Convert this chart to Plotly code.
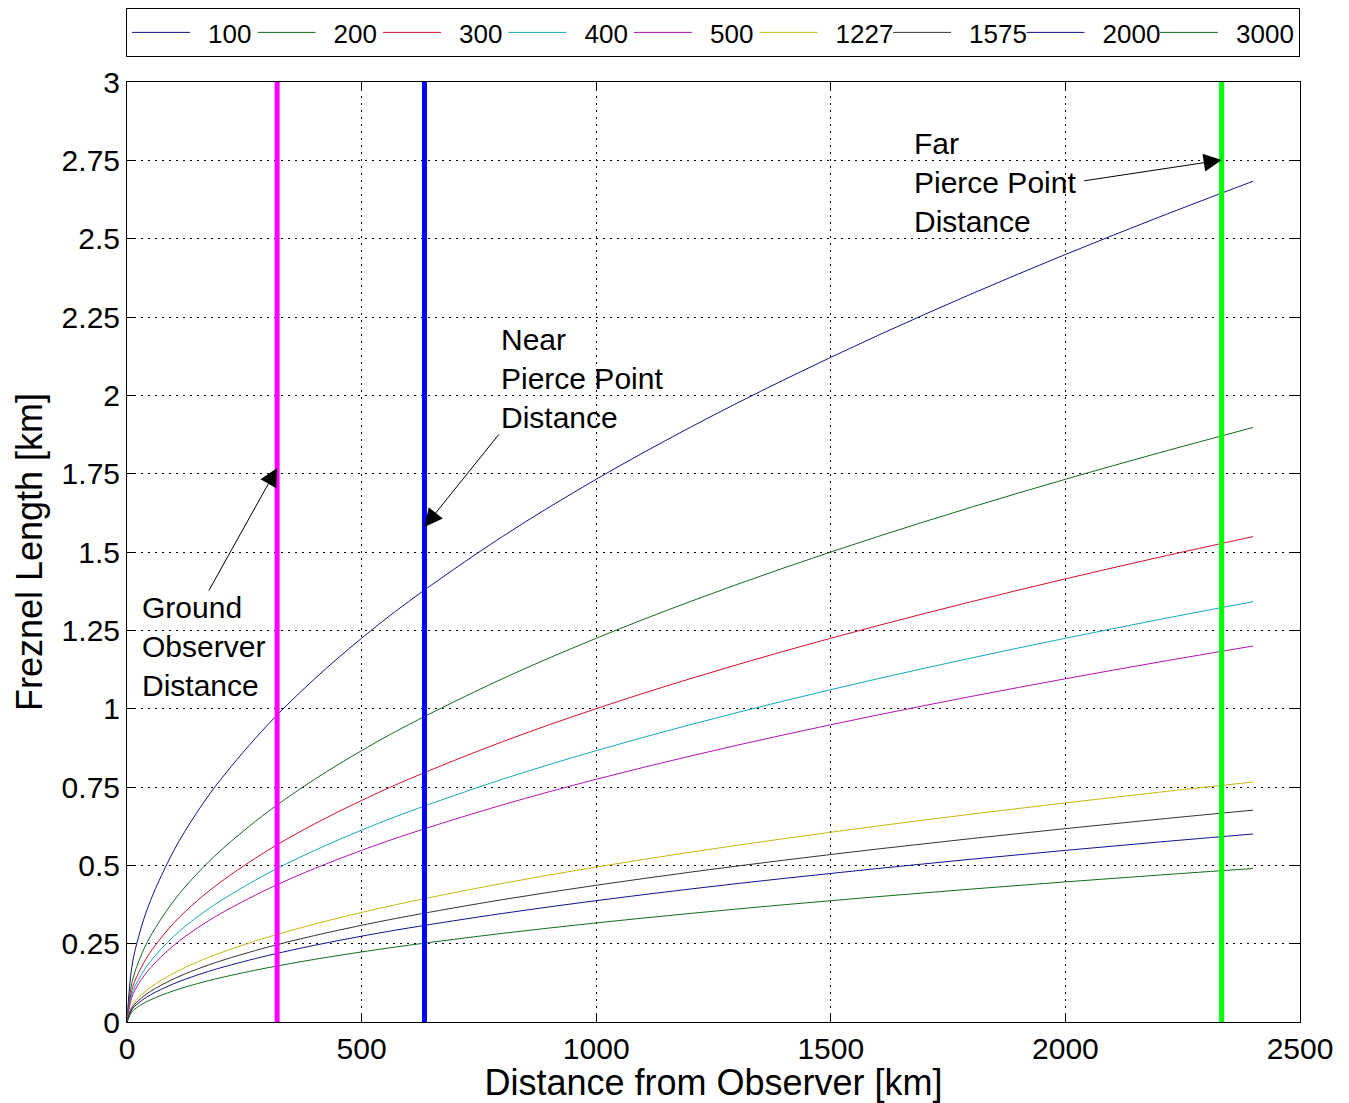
import plotly.graph_objects as go

# Distance from observer [km]
distance = [0, 10, 25, 50, 100, 150, 200, 300, 400, 500, 600, 800, 1000,
            1200, 1400, 1600, 1800, 2000, 2200, 2400]

# Freznel length [km] per series
f100 = [0, 0.1732, 0.2739, 0.3873, 0.5477, 0.6708, 0.7746, 0.9487, 1.0954, 1.2247,
        1.3416, 1.5492, 1.7321, 1.8974, 2.0494, 2.1909, 2.3238, 2.4495, 2.5690, 2.6833]
f200 = [0, 0.1225, 0.1936, 0.2739, 0.3873, 0.4743, 0.5477, 0.6708, 0.7746, 0.8660,
        0.9487, 1.0954, 1.2247, 1.3416, 1.4491, 1.5492, 1.6432, 1.7321, 1.8166, 1.8974]
f300 = [0, 0.1000, 0.1581, 0.2236, 0.3162, 0.3873, 0.4472, 0.5477, 0.6325, 0.7071,
        0.7746, 0.8944, 1.0000, 1.0954, 1.1832, 1.2649, 1.3416, 1.4142, 1.4832, 1.5492]
f400 = [0, 0.0866, 0.1369, 0.1936, 0.2739, 0.3354, 0.3873, 0.4743, 0.5477, 0.6124,
        0.6708, 0.7746, 0.8660, 0.9487, 1.0247, 1.0954, 1.1619, 1.2247, 1.2845, 1.3416]
f500 = [0, 0.0775, 0.1225, 0.1732, 0.2449, 0.3000, 0.3464, 0.4243, 0.4899, 0.5477,
        0.6000, 0.6928, 0.7746, 0.8485, 0.9165, 0.9798, 1.0392, 1.0954, 1.1489, 1.2000]
f1227 = [0, 0.0494, 0.0782, 0.1106, 0.1564, 0.1915, 0.2211, 0.2708, 0.3127, 0.3496,
         0.3830, 0.4423, 0.4945, 0.5417, 0.5851, 0.6255, 0.6634, 0.6993, 0.7334, 0.7660]
f1575 = [0, 0.0436, 0.0690, 0.0976, 0.1380, 0.1690, 0.1952, 0.2390, 0.2760, 0.3086,
         0.3381, 0.3904, 0.4364, 0.4781, 0.5164, 0.5521, 0.5855, 0.6172, 0.6473, 0.6761]
f2000 = [0, 0.0387, 0.0612, 0.0866, 0.1225, 0.1500, 0.1732, 0.2121, 0.2449, 0.2739,
         0.3000, 0.3464, 0.3873, 0.4243, 0.4583, 0.4899, 0.5196, 0.5477, 0.5745, 0.6000]
f3000 = [0, 0.0316, 0.0500, 0.0707, 0.1000, 0.1225, 0.1414, 0.1732, 0.2000, 0.2236,
         0.2449, 0.2828, 0.3162, 0.3464, 0.3742, 0.4000, 0.4243, 0.4472, 0.4690, 0.4899]

series_names = ["100", "200", "300", "400", "500", "1227", "1575", "2000", "3000"]
series_values = [f100, f200, f300, f400, f500, f1227, f1575, f2000, f3000]
series_colors = ["#12128c", "#156b1c", "#d0102a", "#14a8b8", "#b014b0",
                 "#c8b814", "#333333", "#12128c", "#156b1c"]
legend_widths = [52.5, 52.5, 52.5, 52.5, 52.5, 60.5, 60.5, 60.5, 71]

# Vertical marker distances [km]
ground_x = 320
near_x = 634
far_x = 2333
marker_y = [0, 3]

fig = go.Figure()
for name, vals, col, lw in zip(series_names, series_values, series_colors, legend_widths):
    fig.add_trace(go.Scatter(x=distance, y=vals, mode="lines", name="\u2002" + name,
                             line=dict(color=col, width=1, shape="spline"),
                             legendwidth=lw))

for xv, col in [(ground_x, "#ff00ff"), (near_x, "#0000ff"), (far_x, "#00ff00")]:
    fig.add_trace(go.Scatter(x=[xv, xv], y=marker_y, mode="lines", showlegend=False,
                             line=dict(color=col, width=5)))

font_family = "Liberation Sans, Arial, Helvetica, sans-serif"

ann_font = dict(family=font_family, size=30, color="black")
annotations = [
    dict(x=28, y=1.197, xref="x", yref="y", text="Ground<br>Observer<br>Distance",
         showarrow=False, xanchor="left", yanchor="middle", align="left", font=ann_font),
    dict(x=792, y=2.055, xref="x", yref="y", text="Near<br>Pierce Point<br>Distance",
         showarrow=False, xanchor="left", yanchor="middle", align="left", font=ann_font),
    dict(x=1674, y=2.678, xref="x", yref="y", text="Far<br>Pierce Point<br>Distance",
         showarrow=False, xanchor="left", yanchor="middle", align="left", font=ann_font),
]
arrows = [
    (ground_x, 1.768, 172.6, 1.372),
    (near_x, 1.58, 795, 1.88),
    (far_x, 2.751, 2037, 2.684),
]
for hx, hy, tx, ty in arrows:
    annotations.append(dict(x=hx, y=hy, xref="x", yref="y", ax=tx, ay=ty,
                            axref="x", ayref="y", text="", showarrow=True,
                            arrowhead=2, arrowsize=3.6, arrowwidth=1,
                            arrowcolor="black", standoff=0))

axis_common = dict(
    showline=True, linecolor="black", linewidth=1, mirror="ticks",
    ticks="inside", ticklen=9, tickcolor="black", tickwidth=1,
    showgrid=True, gridcolor="black", gridwidth=1, griddash="2px,5px",
    zeroline=False, automargin=False,
    tickfont=dict(family=font_family, size=30, color="black"),
)

fig.update_layout(
    width=1349, height=1103,
    margin=dict(l=127, r=49, t=82, b=81, autoexpand=False),
    paper_bgcolor="white", plot_bgcolor="white",
    font=dict(family=font_family, color="black"),
    xaxis=dict(range=[0, 2500], tickvals=[0, 500, 1000, 1500, 2000, 2500],
               title=dict(text="Distance from Observer [km]",
                          font=dict(family=font_family, size=36), standoff=4),
               **axis_common),
    yaxis=dict(range=[0, 3], tickvals=[0, 0.25, 0.5, 0.75, 1, 1.25, 1.5, 1.75, 2,
                                       2.25, 2.5, 2.75, 3],
               title=dict(text="Freznel Length [km]",
                          font=dict(family=font_family, size=36), standoff=8),
               **axis_common),
    legend=dict(orientation="h", xref="container", yref="container",
                x=126 / 1349, xanchor="left", y=1 - 8 / 1103, yanchor="top",
                bordercolor="black", borderwidth=1, bgcolor="white",
                font=dict(family=font_family, size=26, color="black"),
                itemwidth=58, tracegroupgap=0),
    annotations=annotations,
    showlegend=True,
)

fig.write_html("out.html")
